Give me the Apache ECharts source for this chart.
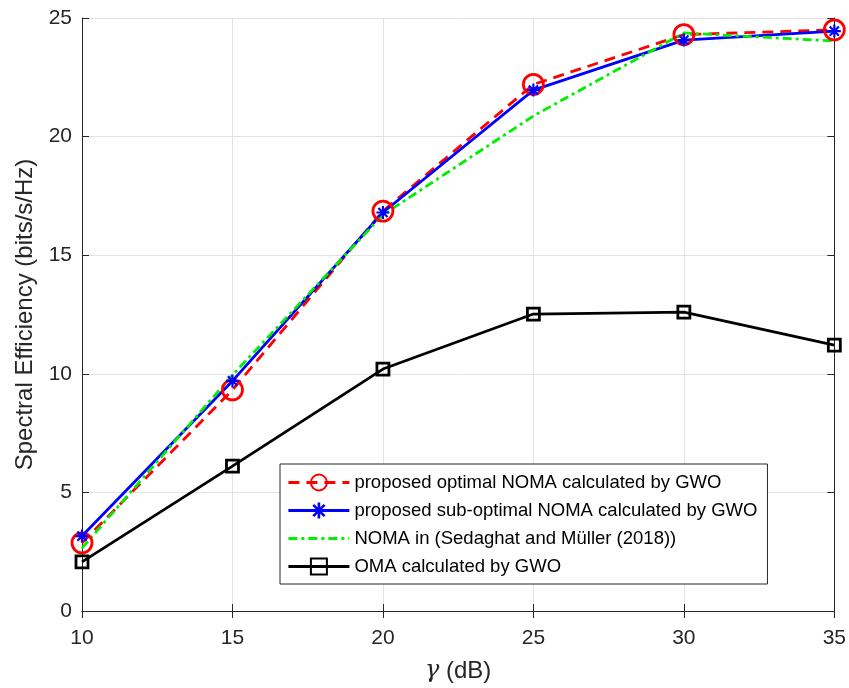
<!DOCTYPE html>
<html>
<head>
<meta charset="utf-8">
<script src="https://cdn.jsdelivr.net/npm/echarts@6/dist/echarts.min.js"></script>
<style>
  html, body { margin: 0; padding: 0; background: #fff; }
  #chartDiv { width: 849px; height: 688px; }
</style>
</head>
<body>
<div id="chartDiv"></div>
<script>
// gamma (dB)
var gammaArray = [10, 15, 20, 25, 30, 35];
var optimalArray = [2.87, 9.32, 16.86, 22.2, 24.3, 24.5];
var subOptimalArray = [3.16, 9.7, 16.8, 21.96, 24.07, 24.45];
var sedaghatArray = [2.65, 9.95, 16.7, 20.87, 24.37, 24.03];
var omaArray = [2.07, 6.11, 10.2, 12.52, 12.6, 11.21];

var seriesNames = [
    'proposed optimal NOMA calculated by GWO',
    'proposed sub-optimal NOMA calculated by GWO',
    'NOMA in (Sedaghat and Müller (2018))',
    'OMA calculated by GWO'
];

function pairs(ys) {
    var out = [];
    for (var i = 0; i < gammaArray.length; ++i) {
        out.push([gammaArray[i], ys[i]]);
    }
    return out;
}

// asterisk marker
var asterisk = 'path://M-1,-6H1V6H-1Z M-6,-1H6V1H-6Z ' +
    'M-4.95,-3.54L-3.54,-4.95L4.95,3.54L3.54,4.95Z ' +
    'M-3.54,4.95L-4.95,3.54L3.54,-4.95L4.95,-3.54Z';

var axisColor = '#262626';
var fontName = 'Liberation Sans, Arial, sans-serif';
var clear = 'rgba(0,0,0,0)';

var myChart = echarts.init(document.getElementById('chartDiv'));

var option = {
    animation: false,
    backgroundColor: '#fff',
    textStyle: { fontFamily: fontName },
    grid: {
        left: 82,
        right: 14,
        top: 18,
        bottom: 77
    },
    legend: {
        orient: 'vertical',
        left: 280,
        top: 464,
        padding: [9, 10, 8, 7],
        itemGap: 9,
        itemWidth: 61,
        itemHeight: 20,
        borderColor: axisColor,
        borderWidth: 1,
        backgroundColor: '#fff',
        lineStyle: { width: 2.8 },
        textStyle: { fontSize: 18.5, color: '#000', fontFamily: fontName },
        data: [
            seriesNames[0],
            seriesNames[1],
            { name: seriesNames[2], itemStyle: { opacity: 0 } },
            seriesNames[3]
        ]
    },
    xAxis: [{
        type: 'value',
        min: 10,
        max: 35,
        interval: 5,
        name: '{i|γ} (dB)',
        nameLocation: 'middle',
        nameGap: 48,
        nameTextStyle: {
            fontSize: 24,
            color: axisColor,
            rich: { i: { fontSize: 24, fontStyle: 'italic', fontFamily: 'DejaVu Serif', color: axisColor } }
        },
        axisLabel: { fontSize: 21, color: axisColor, margin: 17 },
        axisLine: { lineStyle: { color: axisColor, width: 1 } },
        axisTick: { inside: true, length: 7, lineStyle: { color: axisColor } },
        splitLine: { show: true, lineStyle: { color: '#e3e3e3', width: 1 } }
    }, {
        type: 'value',
        position: 'top',
        min: 10,
        max: 35,
        interval: 5,
        axisLabel: { show: false },
        axisLine: { show: true, lineStyle: { color: axisColor, width: 1 } },
        axisTick: { inside: true, length: 7, lineStyle: { color: axisColor } },
        splitLine: { show: false }
    }],
    yAxis: [{
        type: 'value',
        min: 0,
        max: 25,
        interval: 5,
        name: 'Spectral Efficiency (bits/s/Hz)',
        nameLocation: 'middle',
        nameGap: 42,
        nameTextStyle: { fontSize: 24, color: axisColor },
        axisLabel: { fontSize: 21, color: axisColor, margin: 10 },
        axisLine: { show: true, lineStyle: { color: axisColor, width: 1 } },
        axisTick: { show: true, inside: true, length: 7, lineStyle: { color: axisColor } },
        splitLine: { show: true, lineStyle: { color: '#e3e3e3', width: 1 } }
    }, {
        type: 'value',
        position: 'right',
        min: 0,
        max: 25,
        interval: 5,
        axisLabel: { show: false },
        axisLine: { show: true, lineStyle: { color: axisColor, width: 1 } },
        axisTick: { show: true, inside: true, length: 7, lineStyle: { color: axisColor } },
        splitLine: { show: false }
    }],
    series: [
        {
            name: seriesNames[0],
            type: 'line',
            symbol: 'circle',
            symbolSize: 20,
            itemStyle: { color: clear, borderColor: '#ff0000', borderWidth: 2.8 },
            lineStyle: { color: '#ff0000', width: 2.8, type: [11, 7] },
            data: pairs(optimalArray)
        },
        {
            name: seriesNames[1],
            type: 'line',
            symbol: asterisk,
            symbolSize: 13,
            itemStyle: { color: '#0000ff' },
            lineStyle: { color: '#0000ff', width: 2.8 },
            data: pairs(subOptimalArray)
        },
        {
            name: seriesNames[2],
            type: 'line',
            symbol: 'none',
            itemStyle: { color: '#00ee00' },
            lineStyle: { color: '#00ee00', width: 2.8, type: [9, 4, 3, 4] },
            data: pairs(sedaghatArray)
        },
        {
            name: seriesNames[3],
            type: 'line',
            symbol: 'rect',
            symbolSize: 12,
            itemStyle: { color: clear, borderColor: '#000', borderWidth: 2.8 },
            lineStyle: { color: '#000', width: 2.8 },
            data: pairs(omaArray)
        }
    ]
};

myChart.setOption(option);
window.addEventListener('resize', function () {
    myChart.resize();
});
</script>
</body>
</html>
